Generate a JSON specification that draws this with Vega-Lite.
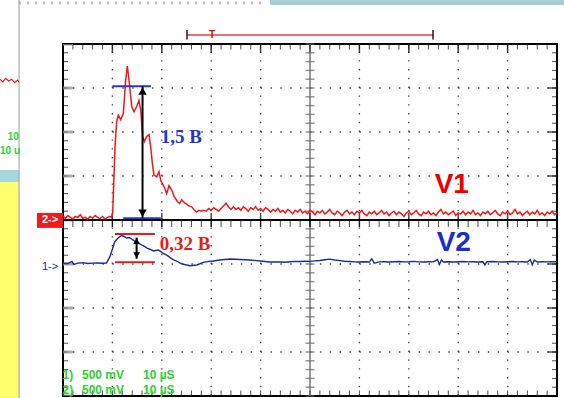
{
  "$schema": "https://vega.github.io/schema/vega-lite/v6.json",
  "width": 494,
  "height": 352,
  "autosize": {"type": "none"},
  "padding": {"left": 63, "top": 44, "right": 7, "bottom": 2},
  "background": "white",
  "config": {"view": {"stroke": "black", "strokeWidth": 2}},
  "data": {"values": [{}]},
  "datasets": {
    "red": [
      {"t": 0, "v": 0.04}, {"t": 0.5, "v": 0.02}, {"t": 1, "v": 0.05}, {"t": 1.5, "v": 0.03}, {"t": 2, "v": 0.01},
      {"t": 2.5, "v": 0.04}, {"t": 3, "v": 0.03}, {"t": 3.5, "v": 0.06}, {"t": 4, "v": 0.02}, {"t": 4.5, "v": 0.03},
      {"t": 5, "v": 0.01}, {"t": 5.5, "v": 0.04}, {"t": 6, "v": 0.02}, {"t": 6.5, "v": 0.05}, {"t": 7, "v": 0.03},
      {"t": 7.5, "v": 0.015}, {"t": 8, "v": 0.04}, {"t": 8.5, "v": 0.01}, {"t": 9, "v": 0.03}, {"t": 9.5, "v": 0.04},
      {"t": 9.8, "v": 0.03}, {"t": 10.06, "v": 0.08}, {"t": 10.32, "v": 0.49}, {"t": 10.53, "v": 0.83}, {"t": 10.87, "v": 1.12},
      {"t": 11.19, "v": 1.19}, {"t": 11.68, "v": 1.14}, {"t": 12.21, "v": 1.21}, {"t": 12.69, "v": 1.59}, {"t": 13.02, "v": 1.75},
      {"t": 13.42, "v": 1.56}, {"t": 13.91, "v": 1.29}, {"t": 14.37, "v": 1.23}, {"t": 14.92, "v": 1.29}, {"t": 15.38, "v": 1.36},
      {"t": 15.73, "v": 1.25}, {"t": 16.13, "v": 0.95}, {"t": 16.46, "v": 0.89}, {"t": 16.94, "v": 0.95}, {"t": 17.41, "v": 0.97},
      {"t": 17.75, "v": 0.83}, {"t": 18.08, "v": 0.65}, {"t": 18.42, "v": 0.51}, {"t": 18.97, "v": 0.49}, {"t": 19.43, "v": 0.55},
      {"t": 19.84, "v": 0.44}, {"t": 20.45, "v": 0.38}, {"t": 20.99, "v": 0.30}, {"t": 21.46, "v": 0.39}, {"t": 22.0, "v": 0.34},
      {"t": 22.47, "v": 0.27}, {"t": 23.14, "v": 0.21}, {"t": 23.6, "v": 0.19}, {"t": 24.03, "v": 0.23}, {"t": 24.5, "v": 0.2},
      {"t": 25.04, "v": 0.18}, {"t": 25.5, "v": 0.16}, {"t": 26.05, "v": 0.15}, {"t": 26.5, "v": 0.12}, {"t": 27.06, "v": 0.09},
      {"t": 27.5, "v": 0.11}, {"t": 28.0, "v": 0.1}, {"t": 28.4, "v": 0.11},
      {"t": 29, "v": 0.10}, {"t": 29.5, "v": 0.13}, {"t": 30, "v": 0.11}, {"t": 30.5, "v": 0.14}, {"t": 31, "v": 0.12},
      {"t": 31.5, "v": 0.10}, {"t": 32, "v": 0.13}, {"t": 32.5, "v": 0.16}, {"t": 33, "v": 0.19}, {"t": 33.5, "v": 0.15},
      {"t": 34, "v": 0.12}, {"t": 34.5, "v": 0.15}, {"t": 35, "v": 0.12}, {"t": 35.5, "v": 0.14}, {"t": 36, "v": 0.11},
      {"t": 36.5, "v": 0.15}, {"t": 37, "v": 0.13}, {"t": 37.5, "v": 0.10}, {"t": 38, "v": 0.14}, {"t": 38.5, "v": 0.12},
      {"t": 39, "v": 0.15}, {"t": 39.5, "v": 0.11}, {"t": 40, "v": 0.13}, {"t": 40.5, "v": 0.10}, {"t": 41, "v": 0.14},
      {"t": 41.5, "v": 0.12}, {"t": 42, "v": 0.09}, {"t": 42.5, "v": 0.12}, {"t": 43, "v": 0.10}, {"t": 43.5, "v": 0.13},
      {"t": 44, "v": 0.09}, {"t": 44.5, "v": 0.11}, {"t": 45, "v": 0.08}, {"t": 45.5, "v": 0.12}, {"t": 46, "v": 0.10},
      {"t": 46.5, "v": 0.07}, {"t": 47, "v": 0.11}, {"t": 47.5, "v": 0.09}, {"t": 48, "v": 0.12}, {"t": 48.5, "v": 0.08},
      {"t": 49, "v": 0.10}, {"t": 49.5, "v": 0.07}, {"t": 50, "v": 0.11}, {"t": 50.5, "v": 0.09}, {"t": 51, "v": 0.06},
      {"t": 51.5, "v": 0.10}, {"t": 52, "v": 0.08}, {"t": 52.5, "v": 0.11}, {"t": 53, "v": 0.07}, {"t": 53.5, "v": 0.09},
      {"t": 54, "v": 0.12}, {"t": 54.5, "v": 0.08}, {"t": 55, "v": 0.06}, {"t": 55.5, "v": 0.10}, {"t": 56, "v": 0.08},
      {"t": 56.5, "v": 0.05}, {"t": 57, "v": 0.09}, {"t": 57.5, "v": 0.11}, {"t": 58, "v": 0.07}, {"t": 58.5, "v": 0.09},
      {"t": 59, "v": 0.06}, {"t": 59.5, "v": 0.10}, {"t": 60, "v": 0.08}, {"t": 60.5, "v": 0.11}, {"t": 61, "v": 0.07},
      {"t": 61.5, "v": 0.05}, {"t": 62, "v": 0.09}, {"t": 62.5, "v": 0.07}, {"t": 63, "v": 0.10}, {"t": 63.5, "v": 0.06},
      {"t": 64, "v": 0.08}, {"t": 64.5, "v": 0.11}, {"t": 65, "v": 0.07}, {"t": 65.5, "v": 0.09}, {"t": 66, "v": 0.05},
      {"t": 66.5, "v": 0.08}, {"t": 67, "v": 0.10}, {"t": 67.5, "v": 0.06}, {"t": 68, "v": 0.09}, {"t": 68.5, "v": 0.07},
      {"t": 69, "v": 0.04}, {"t": 69.5, "v": 0.08}, {"t": 70, "v": 0.10}, {"t": 70.5, "v": 0.06}, {"t": 71, "v": 0.08},
      {"t": 71.5, "v": 0.11}, {"t": 72, "v": 0.07}, {"t": 72.5, "v": 0.05}, {"t": 73, "v": 0.09}, {"t": 73.5, "v": 0.07},
      {"t": 74, "v": 0.10}, {"t": 74.5, "v": 0.06}, {"t": 75, "v": 0.08}, {"t": 75.5, "v": 0.05}, {"t": 76, "v": 0.09},
      {"t": 76.5, "v": 0.12}, {"t": 77, "v": 0.07}, {"t": 77.5, "v": 0.09}, {"t": 78, "v": 0.06}, {"t": 78.5, "v": 0.08},
      {"t": 79, "v": 0.10}, {"t": 79.5, "v": 0.05}, {"t": 80, "v": 0.08}, {"t": 80.5, "v": 0.07}, {"t": 81, "v": 0.10},
      {"t": 81.5, "v": 0.06}, {"t": 82, "v": 0.09}, {"t": 82.5, "v": 0.07}, {"t": 83, "v": 0.11}, {"t": 83.5, "v": 0.06},
      {"t": 84, "v": 0.08}, {"t": 84.5, "v": 0.05}, {"t": 85, "v": 0.09}, {"t": 85.5, "v": 0.07}, {"t": 86, "v": 0.10},
      {"t": 86.5, "v": 0.06}, {"t": 87, "v": 0.08}, {"t": 87.5, "v": 0.11}, {"t": 88, "v": 0.07}, {"t": 88.5, "v": 0.05},
      {"t": 89, "v": 0.09}, {"t": 89.5, "v": 0.07}, {"t": 90, "v": 0.10}, {"t": 90.5, "v": 0.06}, {"t": 91, "v": 0.08},
      {"t": 91.5, "v": 0.12}, {"t": 92, "v": 0.07}, {"t": 92.5, "v": 0.09}, {"t": 93, "v": 0.05}, {"t": 93.5, "v": 0.08},
      {"t": 94, "v": 0.10}, {"t": 94.5, "v": 0.06}, {"t": 95, "v": 0.09}, {"t": 95.5, "v": 0.07}, {"t": 96, "v": 0.11},
      {"t": 96.5, "v": 0.06}, {"t": 97, "v": 0.08}, {"t": 97.5, "v": 0.05}, {"t": 98, "v": 0.09}, {"t": 98.5, "v": 0.07},
      {"t": 99, "v": 0.10}, {"t": 99.5, "v": 0.06}, {"t": 100, "v": 0.08}
    ],
    "blue": [
      {"t": 0, "v": -0.49}, {"t": 1, "v": -0.495}, {"t": 1.8, "v": -0.47}, {"t": 2.2, "v": -0.505}, {"t": 3, "v": -0.49},
      {"t": 4, "v": -0.485}, {"t": 5, "v": -0.495}, {"t": 6, "v": -0.49}, {"t": 7, "v": -0.488}, {"t": 8, "v": -0.492},
      {"t": 8.8, "v": -0.49}, {"t": 9.5, "v": -0.417}, {"t": 10.06, "v": -0.322}, {"t": 10.5, "v": -0.246}, {"t": 11.2, "v": -0.201},
      {"t": 11.9, "v": -0.175}, {"t": 12.4, "v": -0.19}, {"t": 12.9, "v": -0.205}, {"t": 13.4, "v": -0.2}, {"t": 13.9, "v": -0.216},
      {"t": 14.6, "v": -0.246}, {"t": 15.2, "v": -0.26}, {"t": 15.9, "v": -0.284}, {"t": 16.5, "v": -0.3}, {"t": 17.1, "v": -0.322},
      {"t": 17.7, "v": -0.335}, {"t": 18.3, "v": -0.352}, {"t": 19.3, "v": -0.341}, {"t": 20.3, "v": -0.379}, {"t": 21.0, "v": -0.4},
      {"t": 21.7, "v": -0.428}, {"t": 22.3, "v": -0.45}, {"t": 23.0, "v": -0.466}, {"t": 23.7, "v": -0.49}, {"t": 24.4, "v": -0.503},
      {"t": 25.7, "v": -0.519}, {"t": 27.1, "v": -0.511}, {"t": 28.4, "v": -0.481}, {"t": 29.5, "v": -0.47}, {"t": 30.4, "v": -0.466},
      {"t": 31.8, "v": -0.455}, {"t": 33.8, "v": -0.443}, {"t": 35.8, "v": -0.449}, {"t": 37.9, "v": -0.455}, {"t": 39.9, "v": -0.466},
      {"t": 41.9, "v": -0.477}, {"t": 43.9, "v": -0.477}, {"t": 45, "v": -0.48}, {"t": 46, "v": -0.475}, {"t": 47, "v": -0.47},
      {"t": 48, "v": -0.472}, {"t": 49, "v": -0.468}, {"t": 50, "v": -0.47}, {"t": 51, "v": -0.465}, {"t": 52, "v": -0.46},
      {"t": 53, "v": -0.452}, {"t": 54, "v": -0.445}, {"t": 55, "v": -0.455}, {"t": 56, "v": -0.462}, {"t": 57, "v": -0.468},
      {"t": 58, "v": -0.472}, {"t": 59, "v": -0.476}, {"t": 60, "v": -0.478}, {"t": 61, "v": -0.475}, {"t": 62, "v": -0.478},
      {"t": 62.5, "v": -0.44}, {"t": 63, "v": -0.49}, {"t": 64, "v": -0.476}, {"t": 65, "v": -0.474}, {"t": 66, "v": -0.478},
      {"t": 67, "v": -0.475}, {"t": 68, "v": -0.472}, {"t": 69, "v": -0.476}, {"t": 70, "v": -0.474}, {"t": 71, "v": -0.47},
      {"t": 72, "v": -0.476}, {"t": 73, "v": -0.478}, {"t": 74, "v": -0.474}, {"t": 75, "v": -0.476}, {"t": 75.8, "v": -0.45},
      {"t": 76.2, "v": -0.505}, {"t": 76.6, "v": -0.455}, {"t": 77, "v": -0.478}, {"t": 78, "v": -0.474}, {"t": 79, "v": -0.477},
      {"t": 80, "v": -0.475}, {"t": 81, "v": -0.472}, {"t": 82, "v": -0.476}, {"t": 83, "v": -0.474}, {"t": 84, "v": -0.478},
      {"t": 85, "v": -0.475}, {"t": 85.4, "v": -0.51}, {"t": 85.8, "v": -0.474}, {"t": 87, "v": -0.472}, {"t": 88, "v": -0.476},
      {"t": 89, "v": -0.478}, {"t": 90, "v": -0.475}, {"t": 91, "v": -0.472}, {"t": 92, "v": -0.476}, {"t": 93, "v": -0.474},
      {"t": 94, "v": -0.477}, {"t": 94.6, "v": -0.45}, {"t": 95, "v": -0.51}, {"t": 95.4, "v": -0.455}, {"t": 96, "v": -0.478},
      {"t": 97, "v": -0.474}, {"t": 98, "v": -0.476}, {"t": 99, "v": -0.474}, {"t": 100, "v": -0.476}
    ],
    "side": [
      {"t": -12.75, "v": 1.6}, {"t": -12.2, "v": 1.57}, {"t": -11.6, "v": 1.61}, {"t": -11.0, "v": 1.58},
      {"t": -10.4, "v": 1.6}, {"t": -9.8, "v": 1.56}, {"t": -9.2, "v": 1.59}, {"t": -8.95, "v": 1.57}
    ],
    "meas": [
      {"ch": "V1", "hi": 1.52, "lo": 0.02},
      {"ch": "V2", "hi": -0.16, "lo": -0.48}
    ],
    "tt": [
      {"t": 0}, {"t": 2}, {"t": 4}, {"t": 6}, {"t": 8}, {"t": 10}, {"t": 12}, {"t": 14}, {"t": 16}, {"t": 18},
      {"t": 20}, {"t": 22}, {"t": 24}, {"t": 26}, {"t": 28}, {"t": 30}, {"t": 32}, {"t": 34}, {"t": 36}, {"t": 38},
      {"t": 40}, {"t": 42}, {"t": 44}, {"t": 46}, {"t": 48}, {"t": 50}, {"t": 52}, {"t": 54}, {"t": 56}, {"t": 58},
      {"t": 60}, {"t": 62}, {"t": 64}, {"t": 66}, {"t": 68}, {"t": 70}, {"t": 72}, {"t": 74}, {"t": 76}, {"t": 78},
      {"t": 80}, {"t": 82}, {"t": 84}, {"t": 86}, {"t": 88}, {"t": 90}, {"t": 92}, {"t": 94}, {"t": 96}, {"t": 98},
      {"t": 100}
    ],
    "vv": [
      {"v": -2}, {"v": -1.9}, {"v": -1.8}, {"v": -1.7}, {"v": -1.6}, {"v": -1.5}, {"v": -1.4}, {"v": -1.3}, {"v": -1.2}, {"v": -1.1},
      {"v": -1}, {"v": -0.9}, {"v": -0.8}, {"v": -0.7}, {"v": -0.6}, {"v": -0.5}, {"v": -0.4}, {"v": -0.3}, {"v": -0.2}, {"v": -0.1},
      {"v": 0}, {"v": 0.1}, {"v": 0.2}, {"v": 0.3}, {"v": 0.4}, {"v": 0.5}, {"v": 0.6}, {"v": 0.7}, {"v": 0.8}, {"v": 0.9},
      {"v": 1}, {"v": 1.1}, {"v": 1.2}, {"v": 1.3}, {"v": 1.4}, {"v": 1.5}, {"v": 1.6}, {"v": 1.7}, {"v": 1.8}, {"v": 1.9},
      {"v": 2}
    ]
  },
  "layer": [
    {
      "data": {"name": "tt"},
      "transform": [{"filter": "datum.t % 10 == 0 && datum.t > 0 && datum.t < 100 && datum.t != 50"}],
      "mark": {"type": "rule", "color": "#444444", "strokeWidth": 1.4, "strokeDash": [1.4, 7.4]},
      "encoding": {
        "x": {"field": "t", "type": "quantitative", "scale": {"domain": [0, 100], "nice": false, "zero": false}, "axis": null},
        "y": {"datum": -2, "scale": {"domain": [-2, 2], "nice": false, "zero": false}, "axis": null},
        "y2": {"datum": 2}
      }
    },
    {
      "data": {"name": "vv"},
      "transform": [{"filter": "abs(datum.v * 2 - round(datum.v * 2)) < 0.01 && abs(datum.v) > 0.1 && abs(datum.v) < 1.9"}],
      "mark": {"type": "rule", "color": "#444444", "strokeWidth": 1.4, "strokeDash": [1.4, 8.48]},
      "encoding": {
        "x": {"datum": 0, "axis": null},
        "x2": {"datum": 100},
        "y": {"field": "v", "type": "quantitative", "axis": null}
      }
    },
    {
      "mark": {"type": "rect", "color": "#ffff6e"},
      "encoding": {
        "x": {"datum": -12.8, "axis": null}, "x2": {"datum": -8.95},
        "y": {"datum": 0.432, "axis": null}, "y2": {"datum": -2.05}
      }
    },
    {
      "mark": {"type": "rect", "color": "#a5d8dc"},
      "encoding": {
        "x": {"datum": -12.8, "axis": null}, "x2": {"datum": -8.95},
        "y": {"datum": 0.568, "axis": null}, "y2": {"datum": 0.432}
      }
    },
    {
      "mark": {"type": "rect", "color": "#a8cdd3"},
      "encoding": {
        "x": {"datum": 41.9, "axis": null}, "x2": {"datum": 101.5},
        "y": {"datum": 2.51, "axis": null}, "y2": {"datum": 2.443}
      }
    },
    {
      "mark": {"type": "rule", "color": "#9a9a9a", "strokeWidth": 1},
      "encoding": {
        "x": {"datum": -8.9, "axis": null},
        "y": {"datum": 2.51, "axis": null}, "y2": {"datum": -2.05}
      }
    },
    {
      "mark": {"type": "rule", "color": "#888888", "strokeWidth": 3, "strokeDash": [1, 7]},
      "encoding": {
        "x": {"datum": -8.8, "axis": null}, "x2": {"datum": 40.9},
        "y": {"datum": 2.466, "axis": null}
      }
    },
    {
      "data": {"name": "side"},
      "mark": {"type": "line", "color": "#f01818", "strokeWidth": 1.2},
      "encoding": {
        "x": {"field": "t", "type": "quantitative", "axis": null},
        "y": {"field": "v", "type": "quantitative", "axis": null}
      }
    },
    {
      "mark": {"type": "text", "text": "10", "color": "#2fd12f", "fontWeight": "bold", "fontSize": 10, "font": "Liberation Sans", "align": "right", "baseline": "middle"},
      "encoding": {"x": {"datum": -8.95, "axis": null}, "y": {"datum": 0.94, "axis": null}}
    },
    {
      "mark": {"type": "text", "text": "10 u", "color": "#2fd12f", "fontWeight": "bold", "fontSize": 10, "font": "Liberation Sans", "align": "left", "baseline": "middle"},
      "encoding": {"x": {"datum": -12.75, "axis": null}, "y": {"datum": 0.78, "axis": null}}
    },
    {
      "data": {"name": "tt"},
      "mark": {"type": "tick", "orient": "vertical", "size": 11, "thickness": 1, "color": "black", "clip": true},
      "encoding": {"x": {"field": "t", "type": "quantitative", "axis": null}, "y": {"datum": 2, "axis": null}}
    },
    {
      "data": {"name": "tt"},
      "transform": [{"filter": "datum.t % 10 == 0"}],
      "mark": {"type": "tick", "orient": "vertical", "size": 18, "thickness": 1.5, "color": "black", "clip": true},
      "encoding": {"x": {"field": "t", "type": "quantitative", "axis": null}, "y": {"datum": 2, "axis": null}}
    },
    {
      "data": {"name": "tt"},
      "mark": {"type": "tick", "orient": "vertical", "size": 11, "thickness": 1, "color": "black", "clip": true},
      "encoding": {"x": {"field": "t", "type": "quantitative", "axis": null}, "y": {"datum": -2, "axis": null}}
    },
    {
      "data": {"name": "vv"},
      "mark": {"type": "tick", "orient": "horizontal", "size": 10, "thickness": 1, "color": "black", "clip": true},
      "encoding": {"y": {"field": "v", "type": "quantitative", "axis": null}, "x": {"datum": 0, "axis": null}}
    },
    {
      "data": {"name": "vv"},
      "transform": [{"filter": "abs(datum.v * 2 - round(datum.v * 2)) < 0.01"}],
      "mark": {"type": "tick", "orient": "horizontal", "size": 20, "thickness": 3, "color": "#8a8a8a", "clip": true},
      "encoding": {"y": {"field": "v", "type": "quantitative", "axis": null}, "x": {"datum": 0, "axis": null}}
    },
    {
      "data": {"name": "vv"},
      "mark": {"type": "tick", "orient": "horizontal", "size": 10, "thickness": 1, "color": "black", "clip": true},
      "encoding": {"y": {"field": "v", "type": "quantitative", "axis": null}, "x": {"datum": 100, "axis": null}}
    },
    {
      "data": {"name": "vv"},
      "transform": [{"filter": "abs(datum.v * 2 - round(datum.v * 2)) < 0.01"}],
      "mark": {"type": "tick", "orient": "horizontal", "size": 18, "thickness": 1.5, "color": "black", "clip": true},
      "encoding": {"y": {"field": "v", "type": "quantitative", "axis": null}, "x": {"datum": 100, "axis": null}}
    },
    {
      "mark": {"type": "rule", "color": "#555555", "strokeWidth": 1.2},
      "encoding": {"x": {"datum": 50, "axis": null}, "y": {"datum": -2, "axis": null}, "y2": {"datum": 2}}
    },
    {
      "data": {"name": "vv"},
      "mark": {"type": "tick", "orient": "horizontal", "size": 9, "thickness": 1.5, "color": "#666666"},
      "encoding": {"y": {"field": "v", "type": "quantitative", "axis": null}, "x": {"datum": 50, "axis": null}}
    },
    {
      "mark": {"type": "rule", "color": "black", "strokeWidth": 2},
      "encoding": {"x": {"datum": 0, "axis": null}, "x2": {"datum": 100}, "y": {"datum": 0, "axis": null}}
    },
    {
      "data": {"name": "tt"},
      "mark": {"type": "tick", "orient": "vertical", "size": 7, "thickness": 1, "color": "black", "yOffset": 3.5},
      "encoding": {"x": {"field": "t", "type": "quantitative", "axis": null}, "y": {"datum": 0, "axis": null}}
    },
    {
      "data": {"name": "tt"},
      "transform": [{"filter": "datum.t % 10 == 0"}],
      "mark": {"type": "tick", "orient": "vertical", "size": 14, "thickness": 1.5, "color": "black"},
      "encoding": {"x": {"field": "t", "type": "quantitative", "axis": null}, "y": {"datum": 0, "axis": null}}
    },
    {
      "mark": {"type": "rule", "color": "#e57373", "strokeWidth": 2},
      "encoding": {"x": {"datum": 25.1, "axis": null}, "x2": {"datum": 74.9}, "y": {"datum": 2.102, "axis": null}}
    },
    {
      "mark": {"type": "rule", "color": "#3a1010", "strokeWidth": 1.5},
      "encoding": {"x": {"datum": 25.1, "axis": null}, "y": {"datum": 2.16, "axis": null}, "y2": {"datum": 2.05}}
    },
    {
      "mark": {"type": "rule", "color": "#3a1010", "strokeWidth": 1.5},
      "encoding": {"x": {"datum": 74.9, "axis": null}, "y": {"datum": 2.16, "axis": null}, "y2": {"datum": 2.05}}
    },
    {
      "mark": {"type": "text", "text": "T", "color": "#c42020", "fontWeight": "bold", "fontSize": 11, "font": "Liberation Sans", "align": "center", "baseline": "middle"},
      "encoding": {"x": {"datum": 30.2, "axis": null}, "y": {"datum": 2.106, "axis": null}}
    },
    {
      "mark": {"type": "rect", "color": "#ee1c1c"},
      "encoding": {"x": {"datum": -5.26, "axis": null}, "x2": {"datum": 0}, "y": {"datum": 0.08, "axis": null}, "y2": {"datum": -0.09}}
    },
    {
      "mark": {"type": "text", "text": "2->", "color": "white", "fontWeight": "bold", "fontSize": 11, "font": "Liberation Sans", "align": "center", "baseline": "middle"},
      "encoding": {"x": {"datum": -2.63, "axis": null}, "y": {"datum": -0.005, "axis": null}}
    },
    {
      "mark": {"type": "text", "text": "1->", "color": "#1a2a96", "fontSize": 11, "font": "Liberation Sans", "align": "center", "baseline": "middle"},
      "encoding": {"x": {"datum": -2.63, "axis": null}, "y": {"datum": -0.53, "axis": null}}
    },
    {
      "data": {"name": "blue"},
      "mark": {"type": "line", "color": "#1a2a96", "strokeWidth": 1.4},
      "encoding": {
        "x": {"field": "t", "type": "quantitative", "axis": null},
        "y": {"field": "v", "type": "quantitative", "axis": null}
      }
    },
    {
      "data": {"name": "red"},
      "mark": {"type": "line", "color": "#f01818", "strokeWidth": 1.5},
      "encoding": {
        "x": {"field": "t", "type": "quantitative", "axis": null},
        "y": {"field": "v", "type": "quantitative", "axis": null}
      }
    },
    {
      "data": {"name": "meas"},
      "transform": [{"filter": "datum.ch == 'V1'"}],
      "layer": [
        {
          "mark": {"type": "rule", "color": "#2436cc", "strokeWidth": 2},
          "encoding": {"x": {"datum": 10.0, "axis": null}, "x2": {"datum": 17.8}, "y": {"field": "hi", "type": "quantitative", "axis": null}}
        },
        {
          "mark": {"type": "rule", "color": "#2436cc", "strokeWidth": 2},
          "encoding": {"x": {"datum": 12.2, "axis": null}, "x2": {"datum": 19.8}, "y": {"field": "lo", "type": "quantitative", "axis": null}}
        },
        {
          "mark": {"type": "rule", "color": "black", "strokeWidth": 2},
          "encoding": {"x": {"datum": 16.1, "axis": null}, "y": {"field": "lo", "type": "quantitative", "axis": null}, "y2": {"field": "hi"}}
        },
        {
          "mark": {"type": "point", "shape": "triangle-up", "filled": true, "color": "black", "opacity": 1, "size": 70, "yOffset": 5},
          "encoding": {"x": {"datum": 16.1, "axis": null}, "y": {"field": "hi", "type": "quantitative", "axis": null}}
        },
        {
          "mark": {"type": "point", "shape": "triangle-down", "filled": true, "color": "black", "opacity": 1, "size": 70, "yOffset": -5},
          "encoding": {"x": {"datum": 16.1, "axis": null}, "y": {"field": "lo", "type": "quantitative", "axis": null}}
        }
      ]
    },
    {
      "data": {"name": "meas"},
      "transform": [{"filter": "datum.ch == 'V2'"}],
      "layer": [
        {
          "mark": {"type": "rule", "color": "#e61c1c", "strokeWidth": 2},
          "encoding": {"x": {"datum": 10.5, "axis": null}, "x2": {"datum": 18.6}, "y": {"field": "hi", "type": "quantitative", "axis": null}}
        },
        {
          "mark": {"type": "rule", "color": "#e61c1c", "strokeWidth": 2},
          "encoding": {"x": {"datum": 10.5, "axis": null}, "x2": {"datum": 18.6}, "y": {"field": "lo", "type": "quantitative", "axis": null}}
        },
        {
          "mark": {"type": "rule", "color": "black", "strokeWidth": 2},
          "encoding": {"x": {"datum": 14.9, "axis": null}, "y": {"datum": -0.2, "axis": null}, "y2": {"datum": -0.44}}
        },
        {
          "mark": {"type": "point", "shape": "triangle-up", "filled": true, "color": "black", "opacity": 1, "size": 45, "yOffset": 7},
          "encoding": {"x": {"datum": 14.9, "axis": null}, "y": {"field": "hi", "type": "quantitative", "axis": null}}
        },
        {
          "mark": {"type": "point", "shape": "triangle-down", "filled": true, "color": "black", "opacity": 1, "size": 45, "yOffset": -7},
          "encoding": {"x": {"datum": 14.9, "axis": null}, "y": {"field": "lo", "type": "quantitative", "axis": null}}
        }
      ]
    },
    {
      "mark": {"type": "text", "text": "1,5 B", "color": "#2436cc", "fontWeight": "bold", "fontSize": 19, "font": "Liberation Serif", "align": "left", "baseline": "middle"},
      "encoding": {"x": {"datum": 19.8, "axis": null}, "y": {"datum": 0.943, "axis": null}}
    },
    {
      "mark": {"type": "text", "text": "0,32 B", "color": "#e61c1c", "fontWeight": "bold", "fontSize": 19, "font": "Liberation Serif", "align": "left", "baseline": "middle"},
      "encoding": {"x": {"datum": 19.6, "axis": null}, "y": {"datum": -0.273, "axis": null}}
    },
    {
      "mark": {"type": "text", "text": "V1", "color": "#ee0000", "fontWeight": "bold", "fontSize": 28, "font": "Liberation Sans", "align": "center", "baseline": "alphabetic"},
      "encoding": {"x": {"datum": 78.7, "axis": null}, "y": {"datum": 0.307, "axis": null}}
    },
    {
      "mark": {"type": "text", "text": "V2", "color": "#1a2ecc", "fontWeight": "bold", "fontSize": 28, "font": "Liberation Sans", "align": "center", "baseline": "alphabetic"},
      "encoding": {"x": {"datum": 79.1, "axis": null}, "y": {"datum": -0.349, "axis": null}}
    },
    {
      "mark": {"type": "text", "text": "1)", "color": "#2fd12f", "fontWeight": "bold", "fontSize": 12, "font": "Liberation Sans", "align": "left", "baseline": "middle"},
      "encoding": {"x": {"datum": -0.1, "axis": null}, "y": {"datum": -1.761, "axis": null}}
    },
    {
      "mark": {"type": "text", "text": "500 mV", "color": "#2fd12f", "fontWeight": "bold", "fontSize": 12, "font": "Liberation Sans", "align": "left", "baseline": "middle"},
      "encoding": {"x": {"datum": 3.85, "axis": null}, "y": {"datum": -1.761, "axis": null}}
    },
    {
      "mark": {"type": "text", "text": "10 µS", "color": "#2fd12f", "fontWeight": "bold", "fontSize": 12, "font": "Liberation Sans", "align": "left", "baseline": "middle"},
      "encoding": {"x": {"datum": 16.2, "axis": null}, "y": {"datum": -1.761, "axis": null}}
    },
    {
      "mark": {"type": "text", "text": "2)", "color": "#2fd12f", "fontWeight": "bold", "fontSize": 12, "font": "Liberation Sans", "align": "left", "baseline": "middle"},
      "encoding": {"x": {"datum": -0.1, "axis": null}, "y": {"datum": -1.932, "axis": null}}
    },
    {
      "mark": {"type": "text", "text": "500 mV", "color": "#2fd12f", "fontWeight": "bold", "fontSize": 12, "font": "Liberation Sans", "align": "left", "baseline": "middle"},
      "encoding": {"x": {"datum": 3.85, "axis": null}, "y": {"datum": -1.932, "axis": null}}
    },
    {
      "mark": {"type": "text", "text": "10 µS", "color": "#2fd12f", "fontWeight": "bold", "fontSize": 12, "font": "Liberation Sans", "align": "left", "baseline": "middle"},
      "encoding": {"x": {"datum": 16.2, "axis": null}, "y": {"datum": -1.932, "axis": null}}
    }
  ]
}
